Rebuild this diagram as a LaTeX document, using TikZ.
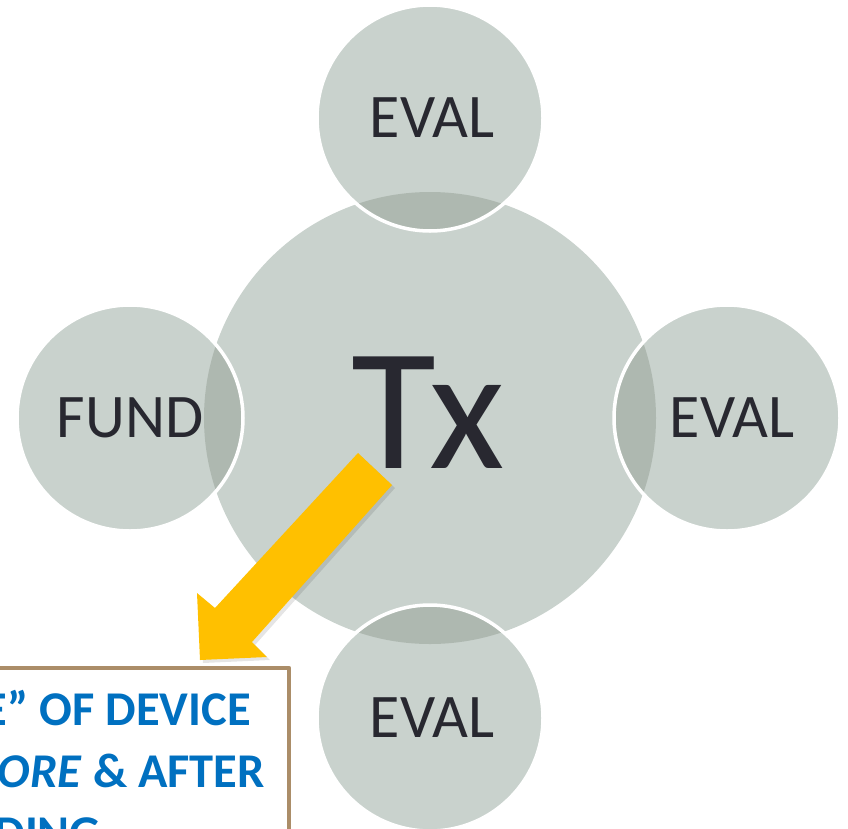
\documentclass[tikz,border=0pt]{standalone}
\usepackage{fontspec}
\setmainfont{Carlito}

\definecolor{disc}{HTML}{C9D2CD}
\definecolor{lens}{HTML}{AEB8B0}
\definecolor{ink}{HTML}{282830}
\definecolor{arrowyellow}{HTML}{FFC000}
\definecolor{boxbrown}{HTML}{AB8D68}
\definecolor{boxblue}{HTML}{0070C0}

\begin{document}
\begin{tikzpicture}[x=1pt,y=-1pt,
  word/.style={text=ink, inner sep=0pt, anchor=base, font=\fontsize{62}{62}\selectfont},
  note/.style={text=boxblue, inner sep=0pt, anchor=base east, font=\fontsize{48.5}{48.5}\selectfont\bfseries}]
\useasboundingbox (0,0) rectangle (848,828);
\clip (0,0) rectangle (848,828);
% the circles
\fill[disc] (430,418) circle (226pt);
\foreach \cx/\cy in {430/118, 130/418, 727/418, 430/718}
  \fill[disc] (\cx,\cy) circle (113pt);
\begin{scope}
\clip (430,418) circle (226pt);
\foreach \cx/\cy in {430/118, 130/418, 727/418, 430/718}
  \fill[lens] (\cx,\cy) circle (113pt);
\end{scope}
\foreach \cx/\cy in {430/118, 130/418, 727/418, 430/718}
  \draw[white, line width=3.5pt] (\cx,\cy) circle (113pt);
% the labels
\node[word] (evaltop) at (432,137) {EVAL};
\node[word] (fund) at (130,437) {FUND};
\node[word] (evalright) at (732,437) {EVAL};
\node[word] (evalbottom) at (432,737) {EVAL};
\node[word, font=\fontsize{174}{174}\selectfont] (tx) at (428,468) {Tx};
% the arrow
\fill[black, opacity=0.1] (361,456) -- (395,488) -- (255,645) -- (270,660) -- (203,663) -- (200,596) -- (218,611) -- cycle;
\fill[arrowyellow] (358,453) -- (392,485) -- (252,642) -- (267,657) -- (200,660) -- (197,593) -- (215,608) -- cycle;
% the box
\draw[boxbrown, line width=4.5pt, line join=round, fill=white] (-20,668) rectangle (289,860);
\node[note] (lineone) at (251,725) {E” OF DEVICE};
\node[note] (linetwo) at (265,787) {\textit{ORE} \& AFTER};
\node[note] (linethree) at (101,849) {DING};
\end{tikzpicture}
\end{document}
